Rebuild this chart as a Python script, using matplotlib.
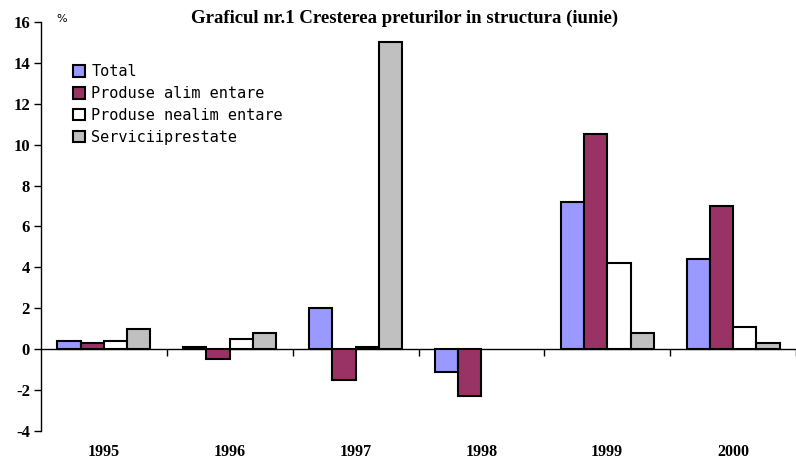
import matplotlib
matplotlib.use("Agg")
import matplotlib.pyplot as plt
import numpy as np

years = ["1995", "1996", "1997", "1998", "1999", "2000"]
series_names = ["Total", "Produse alim entare", "Produse nealim entare", "Serviciiprestate"]
total = [0.4, 0.1, 2.0, -1.1, 7.2, 4.4]
alimentare = [0.3, -0.5, -1.5, -2.3, 10.5, 7.0]
nealimentare = [0.4, 0.5, 0.1, np.nan, 4.2, 1.1]
servicii = [1.0, 0.8, 15.0, np.nan, 0.8, 0.3]
colors = ["#9999FF", "#993366", "#FFFFFF", "#C0C0C0"]
yticks = [-4, -2, 0, 2, 4, 6, 8, 10, 12, 14, 16]

fig = plt.figure(figsize=(7.96, 4.59), dpi=100)
ax = fig.add_axes([41/796, 28/459, 1 - 41/796, 409/459])

x = np.arange(len(years))
w = 0.185
data = [total, alimentare, nealimentare, servicii]
for i, (vals, c, name) in enumerate(zip(data, colors, series_names)):
    ax.bar(x + (i - 1.5) * w, vals, w, color=c, edgecolor="black", linewidth=1.5, label=name, zorder=3)

ax.set_xlim(-0.5, len(years) - 0.5)
ax.set_ylim(-4, 16)
ax.set_yticks(yticks)
ax.set_yticklabels([str(t) for t in yticks], fontfamily="Liberation Serif", fontweight="bold", fontsize=12)
ax.tick_params(axis="y", direction="out", length=5, width=1, pad=3)

ax.spines["top"].set_visible(False)
ax.spines["right"].set_visible(False)
ax.spines["bottom"].set_position(("data", 0))
ax.spines["left"].set_linewidth(1)
ax.spines["bottom"].set_linewidth(1)

ax.set_xticks(np.arange(len(years)) + 0.5)
ax.set_xticklabels([])
ax.tick_params(axis="x", which="major", direction="out", length=5, width=1)
ax.set_xticks(x, minor=True)
ax.set_xticklabels(years, minor=True, fontfamily="Liberation Serif", fontweight="bold", fontsize=11.5)
ax.tick_params(axis="x", which="minor", length=0, pad=68)

fig.text(405/796, 1 - 18/459, "Graficul nr.1 Cresterea preturilor in structura (iunie)",
         ha="center", va="center", fontfamily="Liberation Serif", fontweight="bold", fontsize=13.5)
fig.text(62/796, 1 - 19/459, "%", ha="center", va="center", fontfamily="DejaVu Sans", fontsize=8)

leg = ax.legend(loc="upper left", bbox_to_anchor=(26/755, 1 - 36/409), frameon=False,
                prop={"family": "DejaVu Sans Mono", "size": 11}, handlelength=0.8, handleheight=0.8,
                handletextpad=0.4, labelspacing=0.45, borderaxespad=0)

fig.savefig("out.png", dpi=100)
